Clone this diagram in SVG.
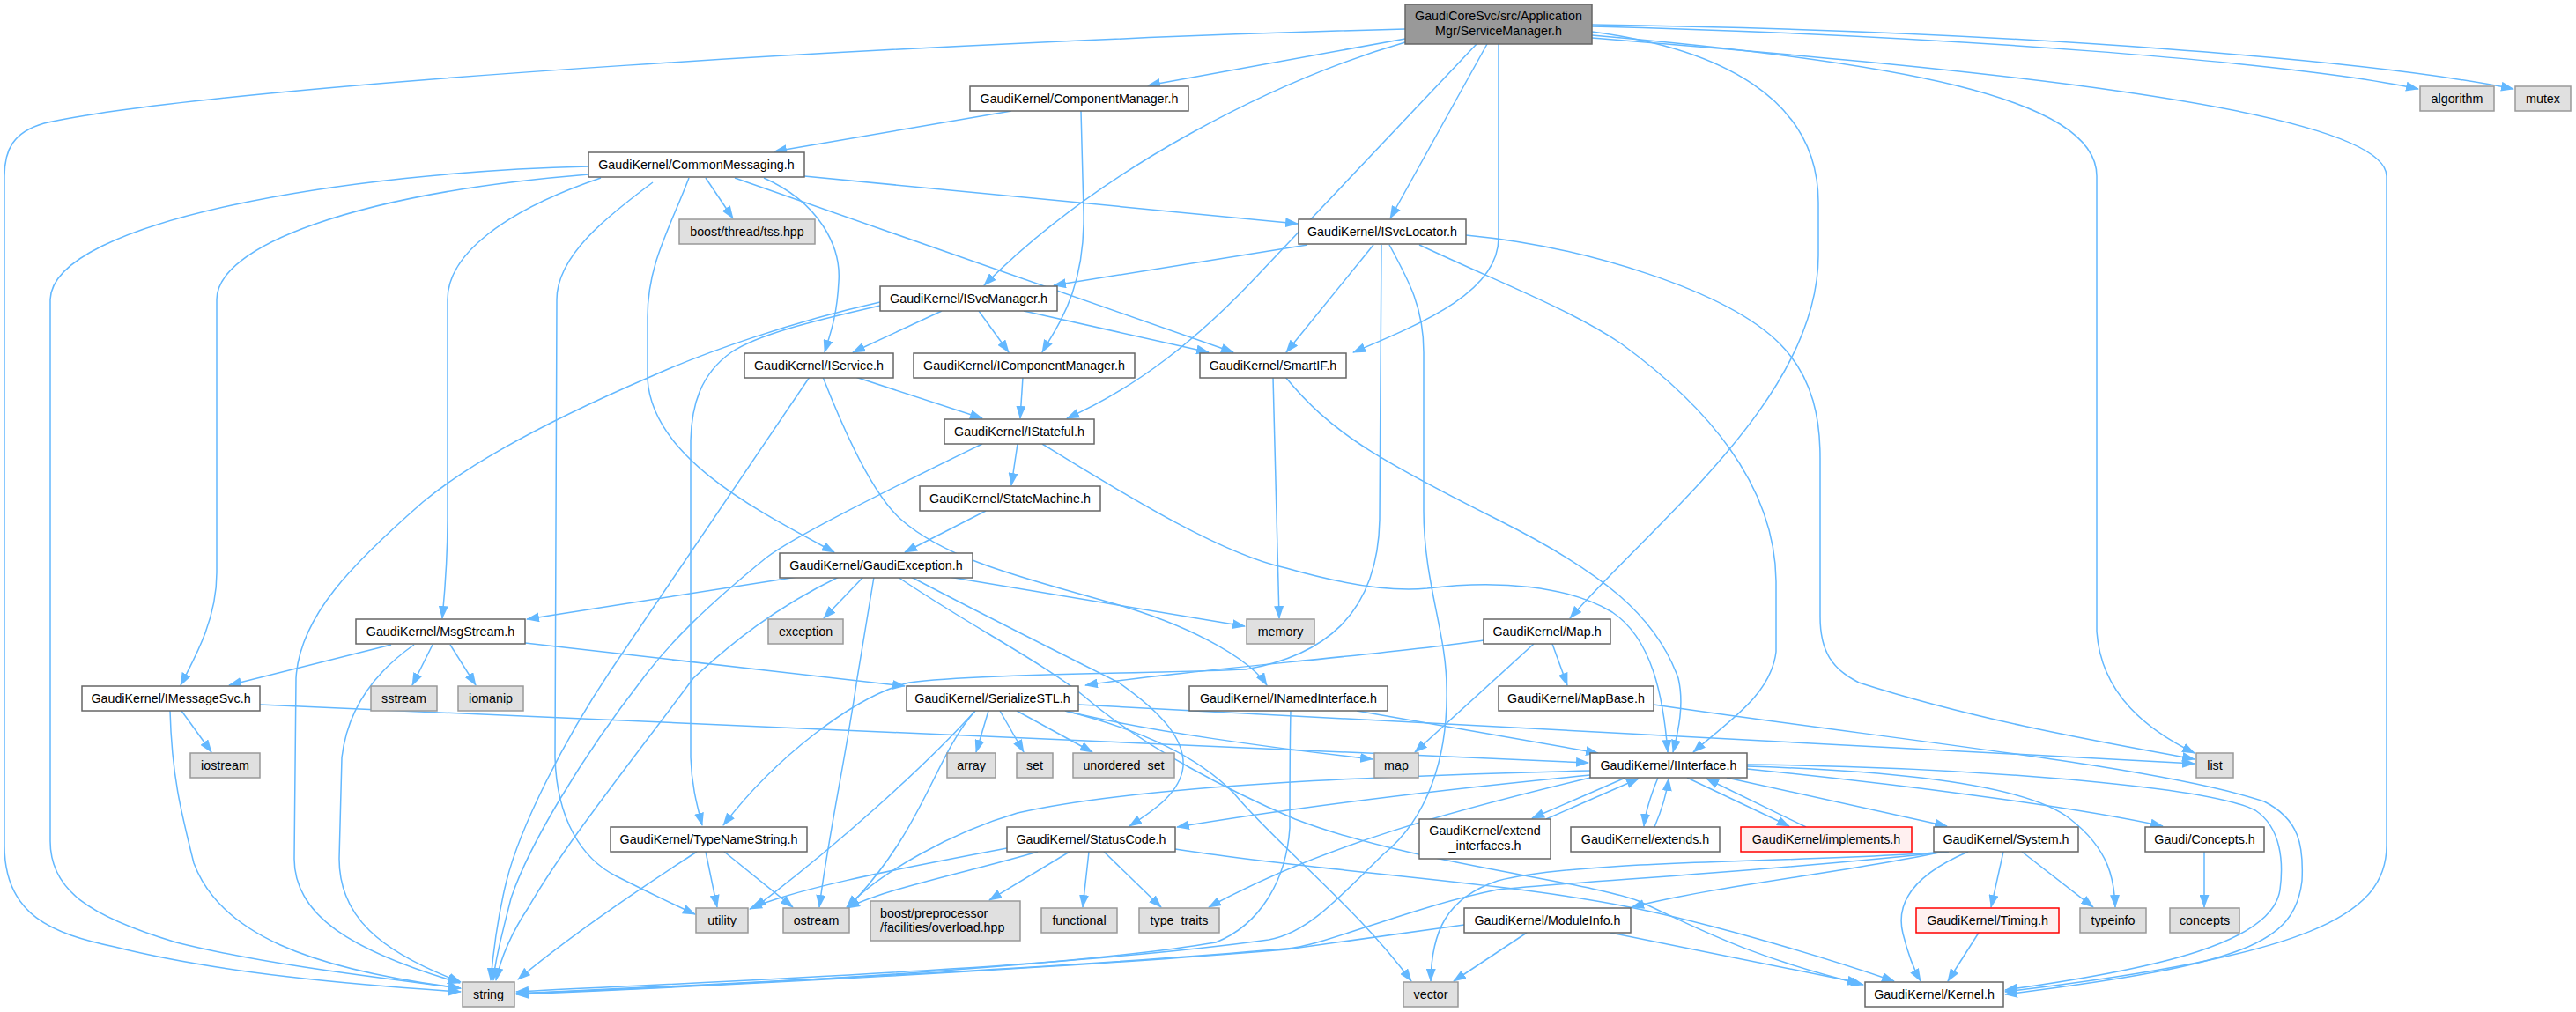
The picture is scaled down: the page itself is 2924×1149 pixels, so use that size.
<svg xmlns="http://www.w3.org/2000/svg" width="2924" height="1149" viewBox="0 0 2924 1149">
<style>
.e{fill:none;stroke:#63B8FF;stroke-width:1.5;marker-end:url(#arr)}
.n rect{fill:#ffffff;stroke:#666666;stroke-width:1.5}
.x rect{fill:#E0E0E0;stroke:#999999;stroke-width:1.5}
.r rect{fill:#FFF0F0;stroke:#FF0000;stroke-width:1.5}
.m rect{fill:#999999;stroke:#666666;stroke-width:1.5}
text{font-family:"Liberation Sans",Arial,sans-serif;font-size:14.3px;fill:#000;text-anchor:middle}
</style>
<defs>
<marker id="arr" markerWidth="15" markerHeight="11" refX="14" refY="5.5" orient="auto" markerUnits="userSpaceOnUse"><path d="M0,0 L15,5.5 L0,11 z" fill="#63B8FF"/></marker>
</defs>
<rect width="2924" height="1149" fill="#ffffff"/>
<g id="edges">
<path class="e" d="M1595,33 C1100,45 250,95 50,140 C15,150 5,170 5,200 L5,960 C5,1040 60,1060 130,1075 C250,1105 400,1118 523,1126"/>
<path class="e" d="M1595,44 L1303,97"/>
<path class="e" d="M1595,48 C1450,90 1250,190 1117,324"/>
<path class="e" d="M1676,50 L1430,310 C1360,385 1290,440 1211,475"/>
<path class="e" d="M1688,50 L1578,248"/>
<path class="e" d="M1701,50 L1701,270 C1701,330 1620,365 1536,400"/>
<path class="e" d="M1807,36 C1950,55 2064,110 2064,230 L2064,290 C2064,450 1880,590 1782,702"/>
<path class="e" d="M1807,40 C2150,70 2380,110 2380,200 L2380,717 C2385,790 2440,830 2491,855"/>
<path class="e" d="M1807,43 C2200,75 2709,120 2709,200 L2709,960 C2709,1040 2620,1085 2276,1126"/>
<path class="e" d="M1807,30 C2200,40 2600,70 2745,101"/>
<path class="e" d="M1807,28 C2300,35 2700,70 2853,101"/>
<path class="e" d="M1148,126 L879,172"/>
<path class="e" d="M1227,126 L1230,240 C1232,330 1200,370 1183,400"/>
<path class="e" d="M913,200 L1473,254"/>
<path class="e" d="M801,202 L832,248"/>
<path class="e" d="M834,202 L1400,400"/>
<path class="e" d="M782,202 C760,260 735,300 735,360 L735,430 C740,520 860,580 947,627"/>
<path class="e" d="M867,202 C930,230 955,280 952,320 C950,360 942,380 936,400"/>
<path class="e" d="M668,189 C400,195 60,250 57,340 L57,955 C57,1010 100,1040 200,1070 C300,1095 430,1110 523,1122"/>
<path class="e" d="M668,198 C400,220 246,280 246,340 L246,650 C246,700 225,740 205,778"/>
<path class="e" d="M682,202 C570,240 508,290 508,340 L508,590 C508,640 505,670 502,702"/>
<path class="e" d="M741,207 C690,245 632,290 632,340 L630,860 C632,930 660,975 700,995 C730,1010 760,1025 789,1038"/>
<path class="e" d="M1484,278 L1196,324"/>
<path class="e" d="M1559,278 L1460,400"/>
<path class="e" d="M1611,278 C1700,320 1780,350 1840,390 C1950,470 2015,560 2016,660 L2016,740 C2010,790 1960,820 1922,854"/>
<path class="e" d="M1664,267 C1800,280 1960,330 2020,390 C2060,430 2066,480 2066,520 L2066,700 C2066,740 2080,760 2110,775 C2250,820 2400,845 2491,862"/>
<path class="e" d="M1568,278 L1566,590 C1564,700 1500,745 1414,760 C1300,765 1100,765 1032,775 C970,790 880,860 821,937"/>
<path class="e" d="M1577,278 C1600,320 1616,350 1616,400 L1616,580 C1616,660 1642,720 1642,780 C1644,860 1620,930 1570,970 C1510,1030 1480,1060 1440,1067 C1200,1100 800,1115 586,1126"/>
<path class="e" d="M1069,353 L968,400"/>
<path class="e" d="M1111,353 L1145,400"/>
<path class="e" d="M1162,353 L1372,400"/>
<path class="e" d="M999,343 C900,365 800,400 740,427 C640,470 540,520 480,570 C400,640 340,700 336,770 L334,975 C334,1040 400,1080 522,1116"/>
<path class="e" d="M999,347 C920,365 860,380 830,400 C795,425 785,460 784,500 L784,860 C785,890 790,910 797,937"/>
<path class="e" d="M971,428 L1115,475"/>
<path class="e" d="M919,428 L694,760 C640,840 590,940 575,1000 C565,1040 560,1080 557,1113"/>
<path class="e" d="M934,428 C970,520 1000,570 1023,590 C1080,640 1180,660 1280,690 C1360,715 1420,750 1438,778"/>
<path class="e" d="M1161,428 L1158,475"/>
<path class="e" d="M1445,428 L1452,702"/>
<path class="e" d="M1459,428 C1510,490 1560,520 1700,590 C1820,650 1880,700 1905,770 C1912,800 1905,830 1899,854"/>
<path class="e" d="M1155,504 L1148,551"/>
<path class="e" d="M1115,504 C1000,560 900,610 870,633 C800,690 760,730 730,770 C660,860 600,960 580,1020 C570,1060 562,1090 560,1113"/>
<path class="e" d="M1183,504 C1290,570 1390,630 1460,645 C1530,665 1580,672 1620,668 C1700,658 1780,665 1830,695 C1875,725 1888,790 1893,854"/>
<path class="e" d="M1119,580 L1027,627"/>
<path class="e" d="M905,655 L598,703"/>
<path class="e" d="M980,655 L935,702"/>
<path class="e" d="M1077,655 L1413,711"/>
<path class="e" d="M952,655 C880,690 830,730 787,770 C720,860 640,960 600,1030 C580,1060 568,1090 563,1113"/>
<path class="e" d="M992,655 L973,770 C960,860 940,950 930,1030"/>
<path class="e" d="M1034,655 C1120,700 1220,750 1270,775 C1320,810 1345,840 1343,870 C1340,900 1310,920 1282,938"/>
<path class="e" d="M1019,655 C1100,710 1180,750 1230,790 C1300,850 1400,900 1470,930 C1600,980 1800,1000 1860,1023 C1920,1050 1980,1085 2115,1118"/>
<path class="e" d="M444,732 L260,778"/>
<path class="e" d="M491,732 L468,778"/>
<path class="e" d="M511,732 L540,778"/>
<path class="e" d="M470,732 C430,760 395,800 388,860 L385,975 C385,1040 430,1080 523,1115"/>
<path class="e" d="M596,730 L1027,779"/>
<path class="e" d="M206,807 L240,854"/>
<path class="e" d="M193,807 C195,880 205,920 220,980 C250,1060 350,1100 523,1122"/>
<path class="e" d="M295,800 L1803,866"/>
<path class="e" d="M1122,807 L1108,854"/>
<path class="e" d="M1135,807 L1162,854"/>
<path class="e" d="M1154,807 L1240,854"/>
<path class="e" d="M1209,807 C1300,830 1450,850 1558,862"/>
<path class="e" d="M1224,800 C1500,815 2000,840 2491,867"/>
<path class="e" d="M1209,807 C1300,830 1360,860 1400,900 C1450,960 1540,1030 1602,1114"/>
<path class="e" d="M1107,807 C1050,870 950,960 856,1031"/>
<path class="e" d="M1107,807 C1060,860 1050,940 962,1031"/>
<path class="e" d="M1540,807 L1814,855"/>
<path class="e" d="M1465,807 C1464,850 1464,900 1464,940 C1460,1000 1430,1050 1380,1070 C1200,1100 800,1120 586,1128"/>
<path class="e" d="M1877,800 C2150,840 2450,870 2570,910 C2610,930 2615,960 2613,1000 C2605,1070 2550,1095 2276,1129"/>
<path class="e" d="M1762,731 L1779,778"/>
<path class="e" d="M1741,731 L1606,854"/>
<path class="e" d="M1684,727 C1560,745 1350,760 1232,778"/>
<path class="e" d="M801,967 L814,1030"/>
<path class="e" d="M822,967 L900,1030"/>
<path class="e" d="M791,967 C740,1000 650,1060 588,1112"/>
<path class="e" d="M1143,963 C1000,990 900,1010 851,1032"/>
<path class="e" d="M1178,967 C1100,990 1000,1010 962,1031"/>
<path class="e" d="M1214,967 L1123,1022"/>
<path class="e" d="M1236,967 L1229,1030"/>
<path class="e" d="M1253,967 L1318,1030"/>
<path class="e" d="M1334,964 C1500,990 1700,1000 1850,1030 C1950,1050 2080,1090 2150,1114"/>
<path class="e" d="M1845,883 L1739,929"/>
<path class="e" d="M1755,930 L1860,884"/>
<path class="e" d="M1882,883 C1875,900 1868,920 1866,938"/>
<path class="e" d="M1878,939 C1886,920 1892,900 1894,884"/>
<path class="e" d="M1915,883 L2031,938"/>
<path class="e" d="M2050,939 L1937,884"/>
<path class="e" d="M1805,875 C1600,880 1300,890 1155,923 C1080,945 1000,990 961,1030"/>
<path class="e" d="M1805,880 C1600,900 1450,920 1336,939"/>
<path class="e" d="M1805,883 C1650,920 1500,960 1372,1030"/>
<path class="e" d="M1960,883 L2210,938"/>
<path class="e" d="M1983,873 C2150,890 2350,915 2455,938"/>
<path class="e" d="M1983,870 C2150,875 2300,890 2350,930 C2395,965 2400,1000 2401,1030"/>
<path class="e" d="M1983,868 C2200,870 2500,890 2560,920 C2590,940 2592,980 2588,1010 C2580,1070 2450,1100 2276,1124"/>
<path class="e" d="M2205,967 C2100,990 1950,1005 1852,1030"/>
<path class="e" d="M2210,967 C2050,980 1800,975 1700,1000 C1640,1020 1625,1060 1624,1114"/>
<path class="e" d="M2212,967 C2000,990 1800,1000 1700,1010 C1600,1030 1500,1075 1460,1077 C1200,1100 800,1118 586,1128"/>
<path class="e" d="M2234,967 C2180,990 2150,1020 2160,1060 C2165,1080 2172,1100 2180,1114"/>
<path class="e" d="M2274,967 L2260,1030"/>
<path class="e" d="M2295,967 L2376,1030"/>
<path class="e" d="M1662,1050 L1460,1078 C1200,1100 800,1120 586,1129"/>
<path class="e" d="M1733,1059 L1650,1114"/>
<path class="e" d="M1828,1059 L2111,1116"/>
<path class="e" d="M2246,1059 L2211,1114"/>
<path class="e" d="M2502,967 L2502,1030"/>
</g>
<g id="n_sm" class="m"><rect x="1595" y="5" width="212" height="45"/><text x="1701" y="23">GaudiCoreSvc/src/Application</text><text x="1701" y="40">Mgr/ServiceManager.h</text></g>
<g id="n_compmgr" class="n"><rect x="1101" y="98" width="248" height="28"/><text x="1225" y="117">GaudiKernel/ComponentManager.h</text></g>
<g id="n_algorithm" class="x"><rect x="2747" y="98" width="84" height="28"/><text x="2789" y="117">algorithm</text></g>
<g id="n_mutex" class="x"><rect x="2855" y="98" width="63" height="28"/><text x="2886.5" y="117">mutex</text></g>
<g id="n_commonmsg" class="n"><rect x="668" y="173" width="245" height="28"/><text x="790.5" y="192">GaudiKernel/CommonMessaging.h</text></g>
<g id="n_tss" class="x"><rect x="771" y="249" width="154" height="28"/><text x="848" y="268">boost/thread/tss.hpp</text></g>
<g id="n_isvclocator" class="n"><rect x="1474" y="249" width="190" height="28"/><text x="1569" y="268">GaudiKernel/ISvcLocator.h</text></g>
<g id="n_isvcmanager" class="n"><rect x="999" y="325" width="201" height="28"/><text x="1099.5" y="344">GaudiKernel/ISvcManager.h</text></g>
<g id="n_iservice" class="n"><rect x="845" y="401" width="169" height="28"/><text x="929.5" y="420">GaudiKernel/IService.h</text></g>
<g id="n_icompmgr" class="n"><rect x="1037" y="401" width="251" height="28"/><text x="1162.5" y="420">GaudiKernel/IComponentManager.h</text></g>
<g id="n_smartif" class="n"><rect x="1362" y="401" width="166" height="28"/><text x="1445" y="420">GaudiKernel/SmartIF.h</text></g>
<g id="n_istateful" class="n"><rect x="1072" y="476" width="170" height="28"/><text x="1157" y="495">GaudiKernel/IStateful.h</text></g>
<g id="n_statemachine" class="n"><rect x="1044" y="552" width="205" height="28"/><text x="1146.5" y="571">GaudiKernel/StateMachine.h</text></g>
<g id="n_gaudiexc" class="n"><rect x="885" y="628" width="219" height="28"/><text x="994.5" y="647">GaudiKernel/GaudiException.h</text></g>
<g id="n_msgstream" class="n"><rect x="404" y="703" width="192" height="28"/><text x="500" y="722">GaudiKernel/MsgStream.h</text></g>
<g id="n_exception" class="x"><rect x="872" y="703" width="85" height="28"/><text x="914.5" y="722">exception</text></g>
<g id="n_memory" class="x"><rect x="1415" y="703" width="77" height="28"/><text x="1453.5" y="722">memory</text></g>
<g id="n_map_h" class="n"><rect x="1684" y="703" width="144" height="28"/><text x="1756" y="722">GaudiKernel/Map.h</text></g>
<g id="n_imessagesvc" class="n"><rect x="93" y="779" width="202" height="28"/><text x="194" y="798">GaudiKernel/IMessageSvc.h</text></g>
<g id="n_sstream" class="x"><rect x="421" y="779" width="75" height="28"/><text x="458.5" y="798">sstream</text></g>
<g id="n_iomanip" class="x"><rect x="520" y="779" width="74" height="28"/><text x="557" y="798">iomanip</text></g>
<g id="n_serializestl" class="n"><rect x="1029" y="779" width="195" height="28"/><text x="1126.5" y="798">GaudiKernel/SerializeSTL.h</text></g>
<g id="n_inamed" class="n"><rect x="1350" y="779" width="225" height="28"/><text x="1462.5" y="798">GaudiKernel/INamedInterface.h</text></g>
<g id="n_mapbase" class="n"><rect x="1701" y="779" width="176" height="28"/><text x="1789" y="798">GaudiKernel/MapBase.h</text></g>
<g id="n_iostream" class="x"><rect x="216" y="855" width="79" height="28"/><text x="255.5" y="874">iostream</text></g>
<g id="n_array" class="x"><rect x="1075" y="855" width="55" height="28"/><text x="1102.5" y="874">array</text></g>
<g id="n_set" class="x"><rect x="1154" y="855" width="41" height="28"/><text x="1174.5" y="874">set</text></g>
<g id="n_unordered_set" class="x"><rect x="1218" y="855" width="115" height="28"/><text x="1275.5" y="874">unordered_set</text></g>
<g id="n_map" class="x"><rect x="1560" y="855" width="50" height="28"/><text x="1585" y="874">map</text></g>
<g id="n_iinterface" class="n"><rect x="1805" y="855" width="178" height="28"/><text x="1894" y="874">GaudiKernel/IInterface.h</text></g>
<g id="n_list" class="x"><rect x="2493" y="855" width="42" height="28"/><text x="2514" y="874">list</text></g>
<g id="n_typenamestring" class="n"><rect x="693" y="939" width="223" height="28"/><text x="804.5" y="958">GaudiKernel/TypeNameString.h</text></g>
<g id="n_statuscode" class="n"><rect x="1143" y="939" width="191" height="28"/><text x="1238.5" y="958">GaudiKernel/StatusCode.h</text></g>
<g id="n_extend_interfaces" class="n"><rect x="1611" y="930" width="149" height="45"/><text x="1685.5" y="948">GaudiKernel/extend</text><text x="1685.5" y="965">_interfaces.h</text></g>
<g id="n_extends" class="n"><rect x="1783" y="939" width="169" height="28"/><text x="1867.5" y="958">GaudiKernel/extends.h</text></g>
<g id="n_implements" class="r"><rect x="1976" y="939" width="194" height="28"/><text x="2073" y="958">GaudiKernel/implements.h</text></g>
<g id="n_system" class="n"><rect x="2195" y="939" width="164" height="28"/><text x="2277" y="958">GaudiKernel/System.h</text></g>
<g id="n_concepts_h" class="n"><rect x="2435" y="939" width="135" height="28"/><text x="2502.5" y="958">Gaudi/Concepts.h</text></g>
<g id="n_utility" class="x"><rect x="790" y="1031" width="59" height="28"/><text x="819.5" y="1050">utility</text></g>
<g id="n_ostream" class="x"><rect x="889" y="1031" width="75" height="28"/><text x="926.5" y="1050">ostream</text></g>
<g id="n_overload" class="x"><rect x="988" y="1023" width="170" height="45"/><text x="999" y="1042" style="text-anchor:start">boost/preprocessor</text><text x="999" y="1058" style="text-anchor:start">/facilities/overload.hpp</text></g>
<g id="n_functional" class="x"><rect x="1182" y="1031" width="86" height="28"/><text x="1225" y="1050">functional</text></g>
<g id="n_type_traits" class="x"><rect x="1293" y="1031" width="91" height="28"/><text x="1338.5" y="1050">type_traits</text></g>
<g id="n_moduleinfo" class="n"><rect x="1662" y="1031" width="189" height="28"/><text x="1756.5" y="1050">GaudiKernel/ModuleInfo.h</text></g>
<g id="n_timing" class="r"><rect x="2175" y="1031" width="162" height="28"/><text x="2256" y="1050">GaudiKernel/Timing.h</text></g>
<g id="n_typeinfo" class="x"><rect x="2361" y="1031" width="75" height="28"/><text x="2398.5" y="1050">typeinfo</text></g>
<g id="n_concepts" class="x"><rect x="2463" y="1031" width="79" height="28"/><text x="2502.5" y="1050">concepts</text></g>
<g id="n_string" class="x"><rect x="525" y="1115" width="59" height="28"/><text x="554.5" y="1134">string</text></g>
<g id="n_vector" class="x"><rect x="1593" y="1115" width="62" height="28"/><text x="1624" y="1134">vector</text></g>
<g id="n_kernel" class="n"><rect x="2117" y="1115" width="157" height="28"/><text x="2195.5" y="1134">GaudiKernel/Kernel.h</text></g>
</svg>
